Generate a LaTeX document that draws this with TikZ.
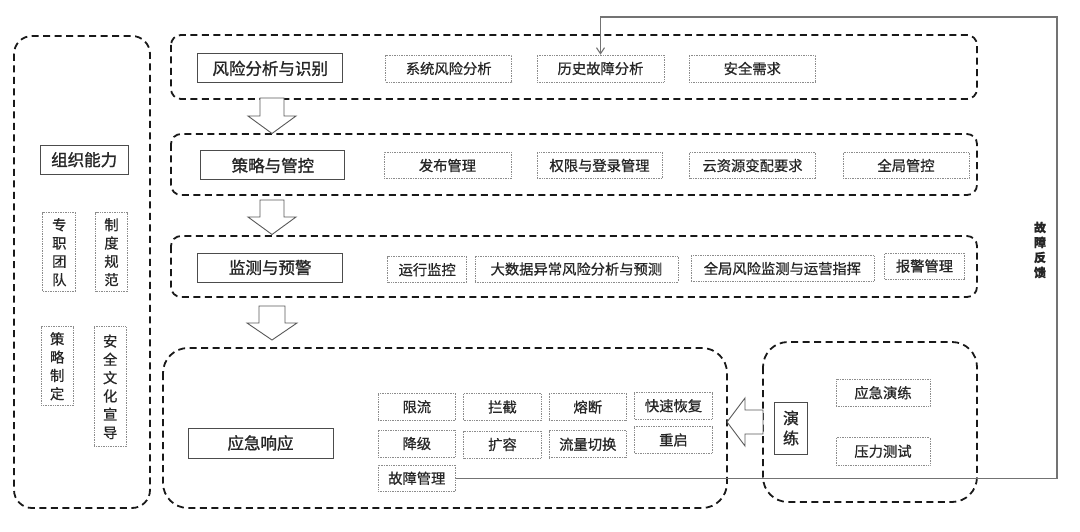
\documentclass[tikz,border=0pt]{standalone}
\usepackage{fontspec}
\newfontfamily\cjk{Noto Sans CJK SC}[FakeBold=0.7]
\newfontfamily\cjkm{Noto Sans CJK SC}[FakeBold=1.2]
\usetikzlibrary{arrows.meta}
\begin{document}
\begin{tikzpicture}[x=1pt,y=-1pt,
  panel/.style={draw=black!90,line width=1.8pt,dash pattern=on 7pt off 4.5pt},
  mainbox/.style={draw=black!70,line width=1pt,fill=white,inner sep=0pt,text=black!85,font=\cjkm\fontsize{16.5}{19}\selectfont},
  subbox/.style={draw=black!45,line width=0.7pt,densely dotted,fill=white,inner sep=0pt,text=black!85,font=\cjk\fontsize{14.3}{17}\selectfont},
  vsub/.style={subbox,align=center,font=\cjk\fontsize{14.3}{18.3}\selectfont},
  blockarrow/.style={draw=black!65,line width=0.9pt,fill=white,line join=miter},
  feedback/.style={draw=black!55,line width=1.1pt,-{Straight Barb[length=6pt,width=8pt]}}
]
\useasboundingbox (0,0) rectangle (1080,532);
% panels
\draw[panel,rounded corners=18pt] (14,36) rectangle (150,508);
\draw[panel,rounded corners=10pt] (171,35) rectangle (977,99);
\draw[panel,rounded corners=10pt] (171,134) rectangle (977,195);
\draw[panel,rounded corners=10pt] (171,236) rectangle (977,297);
\draw[panel,rounded corners=25pt] (163,348) rectangle (727,508);
\draw[panel,rounded corners=25pt] (763,342) rectangle (977,502);

% down block arrows
\draw[blockarrow] (260,98) -- (284,98) -- (284,116) -- (296,116) -- (272,133.5) -- (248,116) -- (260,116) -- cycle;
\draw[blockarrow] (260,200) -- (284,200) -- (284,217) -- (296,217) -- (272,234.5) -- (248,217) -- (260,217) -- cycle;
\draw[blockarrow] (259,306) -- (285,306) -- (285,323) -- (297,323) -- (272,340) -- (247,323) -- (259,323) -- cycle;
% left block arrow
\draw[blockarrow] (763,410) -- (745,410) -- (745,398) -- (727,422) -- (745,446) -- (745,434) -- (763,434) -- cycle;

% left panel
\node[mainbox,minimum width=88,minimum height=29] (org) at (84.2,159.7) {组织能力};
\node[vsub,minimum width=33,minimum height=79] (zz) at (59.3,252.2) {专\\职\\团\\队};
\node[vsub,minimum width=32,minimum height=79] (zd) at (111.5,252.2) {制\\度\\规\\范};
\node[vsub,minimum width=32,minimum height=79] (cl) at (57.2,366.3) {策\\略\\制\\定};
\node[vsub,minimum width=32,minimum height=120] (aq) at (110.2,386.8) {安\\全\\文\\化\\宣\\导};

% row 1
\node[mainbox,minimum width=145,minimum height=29] (r1m) at (270.2,68.4) {风险分析与识别};
\node[subbox,minimum width=126,minimum height=27] (xt) at (448.7,68.5) {系统风险分析};
\node[subbox,minimum width=127,minimum height=27] (ls) at (600.5,68.5) {历史故障分析};
\node[subbox,minimum width=126,minimum height=27] (aqxq) at (752.3,68.5) {安全需求};

% row 2
\node[mainbox,minimum width=144,minimum height=29] (r2m) at (272.9,165.5) {策略与管控};
\node[subbox,minimum width=127,minimum height=26.5] (fb) at (447.5,165.5) {发布管理};
\node[subbox,minimum width=125,minimum height=26.5] (qx) at (599.5,165.5) {权限与登录管理};
\node[subbox,minimum width=126,minimum height=26.5] (yzy) at (752.5,165.5) {云资源变配要求};
\node[subbox,minimum width=126,minimum height=26.5] (qjgk) at (906,165.5) {全局管控};

% row 3
\node[mainbox,minimum width=145,minimum height=29] (r3m) at (270.2,267.5) {监测与预警};
\node[subbox,minimum width=79,minimum height=26] (yx) at (427.2,269.7) {运行监控};
\node[subbox,minimum width=203,minimum height=26] (dsj) at (576.4,269) {大数据异常风险分析与预测};
\node[subbox,minimum width=183,minimum height=26] (qjfx) at (782.4,268.5) {全局风险监测与运营指挥};
\node[subbox,minimum width=80,minimum height=26] (bj) at (924.5,266) {报警管理};

% row 4
\node[mainbox,minimum width=145,minimum height=30] (r4m) at (260.5,443) {应急响应};
\node[subbox,minimum width=77.7,minimum height=27.5] (xl) at (416.8,406.8) {限流};
\node[subbox,minimum width=77.7,minimum height=27.5] (lj) at (502.5,407) {拦截};
\node[subbox,minimum width=77.7,minimum height=27.5] (rd) at (587.8,407) {熔断};
\node[subbox,minimum width=77.7,minimum height=26.5] (ks) at (673.5,405.8) {快速恢复};
\node[subbox,minimum width=77.7,minimum height=27] (jj) at (416.8,443.5) {降级};
\node[subbox,minimum width=77.7,minimum height=27] (kr) at (502.5,444.5) {扩容};
\node[subbox,minimum width=77.7,minimum height=27] (ll) at (587.8,444.3) {流量切换};
\node[subbox,minimum width=77.7,minimum height=26.5] (cq) at (673.5,440) {重启};
\node[subbox,minimum width=77.7,minimum height=26.5] (gz) at (416.8,478.3) {故障管理};

% drill
\node[mainbox,minimum width=33.5,minimum height=52,align=center,font=\cjkm\fontsize{16}{20}\selectfont] (yl) at (791,428) {演\\练};
\node[subbox,minimum width=94,minimum height=27.5] (yjyl) at (883,392.8) {应急演练};
\node[subbox,minimum width=94,minimum height=27.5] (ylcs) at (883,451.3) {压力测试};

% feedback
\coordinate (fbR) at (1057,17);
\draw[feedback] (gz.east) -| (fbR) -| (ls.north);
\node[align=center,inner sep=0pt,text=black!85,font=\cjk\bfseries\fontsize{12}{15}\selectfont] (fblabel) at (1040,250) {故\\障\\反\\馈};
\end{tikzpicture}
\end{document}
